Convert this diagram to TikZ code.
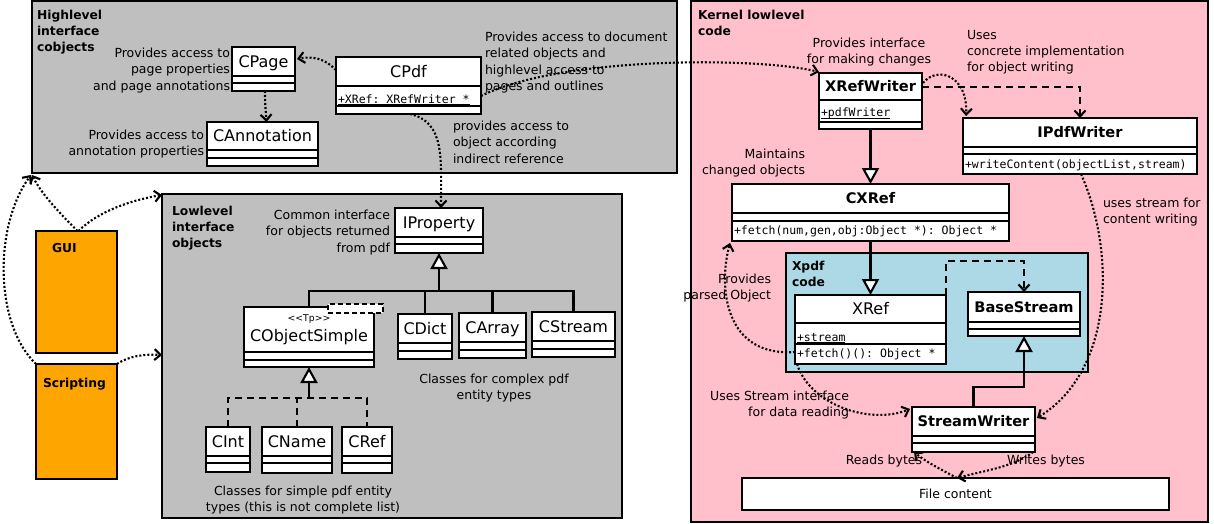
\documentclass[tikz,border=0pt]{standalone}
\usepackage{fontspec}
\setmainfont{DejaVu Sans}
\setmonofont{DejaVu Sans Mono}
\usetikzlibrary{arrows.meta,calc}
\definecolor{grp}{HTML}{BFBFBF}
\definecolor{kpink}{HTML}{FFC0CB}
\definecolor{xblue}{HTML}{ADD8E6}
\definecolor{gorange}{HTML}{FFA500}
\tikzset{
  grpbox/.style={draw=black, line width=1.9pt, anchor=north west, inner sep=0, outer sep=0},
  clsbox/.style={draw=black, fill=white, line width=2.1pt, anchor=north west, inner sep=0, outer sep=0},
  sepline/.style={line width=2.1pt},
  lbl/.style={font=\fontsize{12.5}{16.3}\selectfont, inner sep=0, outer sep=0},
  ttl/.style={font=\bfseries\fontsize{12.3}{16}\selectfont, inner sep=0, outer sep=0, align=left, anchor=north west},
  cname/.style={font=\fontsize{16}{18}\selectfont, inner sep=0, outer sep=0, anchor=base},
  cnameb/.style={font=\bfseries\fontsize{14.6}{18}\selectfont, inner sep=0, outer sep=0, anchor=base},
  mono/.style={font=\ttfamily\fontsize{11.5}{14}\selectfont, inner sep=0, outer sep=0, anchor=base west},
  vtip/.style={-{Straight Barb[length=6pt,width=11pt]}},
  dotarr/.style={line width=2.1pt, dash pattern=on 2pt off 2pt, vtip},
  dasharr/.style={line width=2.1pt, dash pattern=on 7pt off 5pt, vtip},
  dashline/.style={line width=2.1pt, dash pattern=on 7pt off 5pt},
  solidline/.style={line width=2.1pt},
  gentip/.style={-{Triangle[length=16pt,width=17pt,fill=white]}},
  uline/.style={line width=1pt}
}
% #1 name, #2 x, #3 y, #4 width, #5 height, #6 name compartment height, #7 attribute compartment height
\newcommand{\umlclass}[7]{%
  \node[clsbox, minimum width=#4, minimum height=#5] (#1) at (#2,#3) {};
  \draw[sepline] ($(#1.north west)+(0,#6)$) -- ($(#1.north east)+(0,#6)$);
  \draw[sepline] ($(#1.north west)+(0,#6+#7)$) -- ($(#1.north east)+(0,#6+#7)$);
  \coordinate (#1-n) at ($(#1.north)+(0,#6/2)$);
  \coordinate (#1-a) at ($(#1.north west)+(2,#6)$);
  \coordinate (#1-o) at ($(#1.north west)+(2,#6+#7)$);
}
\begin{document}
\begin{tikzpicture}[x=1pt,y=-1pt]
\useasboundingbox (0,0) rectangle (1214,524);
% ---------- groups
\node[grpbox, fill=grp, minimum width=645, minimum height=172] (hl) at (32,1) {};
\node[grpbox, fill=grp, minimum width=460, minimum height=324] (ll) at (162,194) {};
\node[grpbox, fill=kpink, minimum width=517, minimum height=521] (kl) at (691,1) {};
\node[grpbox, fill=xblue, minimum width=302, minimum height=119] (xp) at (786,253) {};
\node[grpbox, fill=gorange, minimum width=81, minimum height=122] (gui) at (36,231) {};
\node[grpbox, fill=gorange, minimum width=81, minimum height=115] (scr) at (36,364) {};
% ---------- group titles
\node[ttl] (t-hl) at (37,10) {Highlevel\\interface\\cobjects};
\node[ttl] (t-ll) at (172,206) {Lowlevel\\interface\\objects};
\node[ttl] (t-kl) at (698,10) {Kernel lowlevel\\code};
\node[ttl] (t-xp) at (792,261) {Xpdf\\code};
\node[ttl, anchor=base west] (t-gui) at (52,252.5) {GUI};
\node[ttl, anchor=base west] (t-scr) at (43,387) {Scripting};
% ---------- classes
\umlclass{cpage}{232}{47}{63}{44}{29}{7}
\node[cname] (n-cpage) at ($(cpage-n)+(0,5.8)$) {CPage};
\umlclass{cann}{207}{122}{111}{44}{28}{8}
\node[cname] (n-cann) at ($(cann-n)+(0,5.8)$) {CAnnotation};
\umlclass{cpdf}{336}{57}{145}{57}{29}{20}
\node[cname] (n-cpdf) at ($(cpdf-n)+(0,5.8)$) {CPdf};
\node[mono] (a-cpdf) at ($(cpdf-a)+(0,17)$) {+XRef: XRefWriter *};
\draw[uline] ($(a-cpdf.base west)+(0,1.5)$) -- ($(a-cpdf.base east)+(0,1.5)$);
\umlclass{iprop}{395}{208}{88}{45}{29}{7}
\node[cname] (n-iprop) at ($(iprop-n)+(0,5.8)$) {IProperty};
\umlclass{cobj}{244}{307}{130}{60}{45}{8}
\node[cname] (n-cobj) at ($(cobj.north)+(0,34.8)$) {CObjectSimple};
\node[draw=black, fill=white, line width=1.8pt, dash pattern=on 5pt off 3pt, anchor=north west, inner sep=0, outer sep=0, minimum width=55, minimum height=9] (tpl) at (328,304) {};
\node[font=\fontsize{9.3}{11}\selectfont, inner sep=0, anchor=base] (n-tp) at ($(cobj.north)+(0,14)$) {<{}<Tp>{}>};
\umlclass{cdict}{398}{314}{54}{45}{29}{8}
\node[cname] (n-cdict) at ($(cdict-n)+(0,5.8)$) {CDict};
\umlclass{carray}{459}{313}{67}{45}{29}{8}
\node[cname] (n-carray) at ($(carray-n)+(0,5.8)$) {CArray};
\umlclass{cstream}{532}{312}{83}{45}{29}{8}
\node[cname] (n-cstream) at ($(cstream-n)+(0,5.8)$) {CStream};
\umlclass{cint}{206}{427}{44}{45}{29}{7}
\node[cname] (n-cint) at ($(cint-n)+(0,5.8)$) {CInt};
\umlclass{cnm}{262}{427}{70}{46}{29}{7}
\node[cname] (n-cnm) at ($(cnm-n)+(0,5.8)$) {CName};
\umlclass{cref}{342}{427}{50}{46}{29}{7}
\node[cname] (n-cref) at ($(cref-n)+(0,5.8)$) {CRef};
% kernel classes
\umlclass{xrw}{819}{73}{103}{56}{27}{22}
\node[cnameb] (n-xrw) at ($(xrw-n)+(0,5.3)$) {XRefWriter};
\node[mono] (a-xrw) at ($(xrw-a)+(0,17)$) {+pdfWriter};
\draw[uline] ($(a-xrw.base west)+(0,1.5)$) -- ($(a-xrw.base east)+(0,1.5)$);
\umlclass{ipw}{963}{118}{234}{56}{29}{7}
\node[cnameb] (n-ipw) at ($(ipw-n)+(0,5.3)$) {IPdfWriter};
\node[mono] (o-ipw) at ($(ipw-o)+(0,14)$) {+writeContent(objectList,stream)};
\umlclass{cxref}{732}{184}{277}{57}{29}{8}
\node[cnameb] (n-cxref) at ($(cxref-n)+(0,5.3)$) {CXRef};
\node[mono] (o-cxref) at ($(cxref-o)+(0,13.5)$) {+fetch(num,gen,obj:Object *): Object *};
\umlclass{xref}{795}{295}{151}{69}{28}{21}
\node[cname] (n-xref) at ($(xref-n)+(0,5.8)$) {XRef};
\node[mono] (a-xref) at ($(xref-a)+(0,18)$) {+stream};
\draw[uline] ($(a-xref.base west)+(0,1.5)$) -- ($(a-xref.base east)+(0,1.5)$);
\node[mono] (o-xref) at ($(xref-o)+(0,13.5)$) {+fetch()(): Object *};
\umlclass{bs}{968}{292}{112}{44}{30}{7}
\node[cnameb] (n-bs) at ($(bs-n)+(0,5.3)$) {BaseStream};
\umlclass{sw}{912}{407}{123}{45}{29}{7}
\node[cnameb] (n-sw) at ($(sw-n)+(0,5.3)$) {StreamWriter};
\node[clsbox, lbl, minimum width=427, minimum height=32, line width=2.1pt] (fc) at (742,478) {File content};
% ---------- labels
\node[lbl, align=right, anchor=north east] (l1) at (230,48) {Provides access to\\page properties\\and page annotations};
\node[lbl, align=right, anchor=north east] (l2) at (204,130) {Provides access to\\annotation properties};
\node[lbl, align=left, anchor=north west] (l3) at (485,32) {Provides access to document\\related objects and\\highlevel access to\\pages and outlines};
\node[lbl, align=left, anchor=north west] (l4) at (453,121) {provides access to\\object according\\indirect reference};
\node[lbl, align=right, anchor=north east] (l5) at (390,210) {Common interface\\for objects returned\\from pdf};
\node[lbl, align=center, anchor=north] (l6) at (494,374) {Classes for complex pdf\\entity types};
\node[lbl, align=center, anchor=north] (l7) at (303,486) {Classes for simple pdf entity\\types (this is not complete list)};
\node[lbl, align=center, anchor=north] (l8) at (869,38) {Provides interface\\for making changes};
\node[lbl, align=left, anchor=north west] (l9) at (967,30) {Uses\\concrete implementation\\for object writing};
\node[lbl, align=right, anchor=north east] (l10) at (805,149) {Maintains\\changed objects};
\node[lbl, align=left, anchor=north west] (l11) at (1103,198) {uses stream for\\content writing};
\node[lbl, align=right, anchor=north east] (l12) at (771,274) {Provides\\parsed Object};
\node[lbl, align=right, anchor=north east] (l13) at (849,391) {Uses Stream interface\\for data reading};
\node[lbl, anchor=base] (l14) at (884,464.5) {Reads bytes};
\node[lbl, anchor=base] (l15) at (1046,464.5) {Writes bytes};
% ---------- generalisations
\coordinate (ipbus) at ($(iprop.south)+(0,38)$);
\draw[solidline] (cobj.north) |- (ipbus) -| (cstream.north);
\draw[solidline] (cdict.north) -- (cdict.north |- ipbus);
\draw[solidline] (carray.north) -- (carray.north |- ipbus);
\draw[solidline, gentip] (ipbus) -- (iprop.south);
\coordinate (csbus) at ($(cobj.south)+(0,31)$);
\draw[dashline] (cint.north) |- (csbus) -| (cref.north);
\draw[dashline] (cnm.north) -- (cnm.north |- csbus);
\draw[solidline, gentip] (csbus) -- (cobj.south);
\draw[solidline, gentip] (xrw.south) -- (cxref.north);
\draw[solidline, gentip] (cxref.south) -- (xref.north);
\coordinate (swbus) at ($(bs.south)+(0,51)$);
\draw[solidline, gentip] (sw.north) |- (swbus) -- (bs.south);
% ---------- dependencies (dashed)
\draw[dasharr] ($(xrw.north east)+(0,14)$) -| (ipw.north);
\draw[dasharr] (xref.north east) -- ++(0,-34) -| (bs.north);
% ---------- dotted associations
\draw[dotarr] ($(cpdf.north west)+(0,13)$) .. controls +(-12,-12) and +(15,-3) .. ($(cpage.north east)+(2,12)$);
\draw[dotarr] ($(cpage.south)+(1.5,0)$) .. controls +(0,15) and +(-1,-15) .. ($(cann.north)+(4,0)$);
\draw[dotarr] ($(cpdf.north east)+(0,39)$) .. controls +(80,-40) and +(-60,-15) .. ($(xrw.north west)+(0,-1)$);
\draw[dotarr] ($(cpdf.south)+(1.5,0)$) .. controls +(35,8) and +(0,-50) .. ($(iprop.north)+(2,0)$);
\draw[dotarr] ($(gui.north)+(1,0)$) .. controls +(-15,-15) and +(10,20) .. ($(hl.south west)+(0,2)$);
\draw[dotarr] (scr.north west) .. controls +(-42,-40) and +(-37,50) .. ($(hl.south west)+(-1,2)$);
\draw[dotarr] ($(gui.north)+(2,0)$) .. controls +(20,-20) and +(-30,5) .. ($(ll.north west)+(0,1)$);
\draw[dotarr] (scr.north east) .. controls +(12,-8) and +(-18,-1) .. ($(ll.west)+(0,-1)$);
\draw[dotarr] ($(xrw.north east)+(1,10)$) .. controls +(15,-18) and +(2,-40) .. ($(ipw.north west)+(3,-2)$);
\draw[dotarr] ($(xref.south west)+(0,-12)$) .. controls +(-70,5) and +(-12,45) .. ($(cxref.south west)+(-2,2)$);
\draw[dotarr] ($(ipw.south)+(1,0)$) .. controls +(34,76) and +(78,-48) .. ($(sw.north east)+(2,11)$);
\draw[dotarr] ($(xref.south west)+(2,0)$) .. controls +(13,41) and +(-40,16) .. ($(sw.north west)+(-2,2)$);
\draw[dotarr] ($(fc.north)+(1.5,0)$) .. controls +(-15,-8) and +(12,10) .. ($(sw.south west)+(2,0)$);
\draw[dotarr] ($(sw.south east)+(-2,0)$) .. controls +(-20,15) and +(30,-8) .. ($(fc.north)+(1.5,0)$);
\end{tikzpicture}
\end{document}
